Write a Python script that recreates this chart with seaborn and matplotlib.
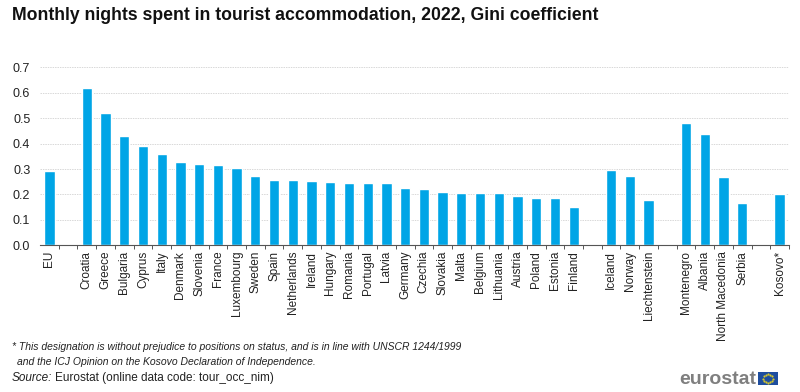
import numpy as np
import pandas as pd
import matplotlib
matplotlib.use('Agg')
import matplotlib.pyplot as plt
from matplotlib.patches import Rectangle
import seaborn as sns

# blanks are the gaps between country groups, names must stay unique
countries = ['EU', ' ', 'Croatia', 'Greece', 'Bulgaria', 'Cyprus', 'Italy', 'Denmark', 'Slovenia',
             'France', 'Luxembourg', 'Sweden', 'Spain', 'Netherlands', 'Ireland', 'Hungary',
             'Romania', 'Portugal', 'Latvia', 'Germany', 'Czechia', 'Slovakia', 'Malta', 'Belgium',
             'Lithuania', 'Austria', 'Poland', 'Estonia', 'Finland', '  ', 'Iceland', 'Norway',
             'Liechtenstein', '   ', 'Montenegro', 'Albania', 'North Macedonia', 'Serbia', '    ',
             'Kosovo*']
gini = [0.293, np.nan, 0.620, 0.520, 0.431, 0.389, 0.359, 0.326, 0.319,
        0.316, 0.305, 0.272, 0.258, 0.256, 0.254, 0.249,
        0.246, 0.244, 0.244, 0.225, 0.222, 0.209, 0.207, 0.204,
        0.204, 0.192, 0.187, 0.186, 0.150, np.nan, 0.297, 0.272,
        0.177, np.nan, 0.482, 0.437, 0.267, 0.165, np.nan,
        0.200]
y_ticks = [0.0, 0.1, 0.2, 0.3, 0.4, 0.5, 0.6, 0.7]

sns.set_theme(style='white')
plt.rcParams['font.family'] = ['Liberation Sans', 'DejaVu Sans']

df = pd.DataFrame({'country': countries, 'gini': gini})

fig = plt.figure(figsize=(8, 3.92), dpi=100)
ax = fig.add_axes([40 / 800, 1 - 245.3 / 392, 749 / 800, 178 / 392])
sns.barplot(data=df, x='country', y='gini', order=countries, color='#00A5E6',
            saturation=1, width=0.55, ax=ax)

ax.set_xlim(-0.5, len(countries) - 0.5)
ax.set_ylim(0, 0.7)
ax.set_xlabel('')
ax.set_ylabel('')
ax.set_yticks(y_ticks)
ax.set_yticklabels([f'{v:.1f}' for v in y_ticks], fontsize=9, color='#222222')
ax.yaxis.grid(True, color='#D8D8D8', lw=0.7, ls=(0, (1.5, 1)))
ax.set_axisbelow(True)

# ticks sit between the categories, labels under the bars
ax.set_xticks(np.arange(len(countries)) + 0.5, minor=True)
ax.set_xticks(np.arange(len(countries)))
ax.set_xticklabels(countries, rotation=90, fontsize=8.5, color='#222222')
ax.tick_params(axis='x', which='major', length=0, pad=4)
ax.tick_params(axis='x', which='minor', bottom=True, length=3, width=0.7, color='#555555')
ax.tick_params(axis='y', length=0, pad=7)

sns.despine(ax=ax, left=True)
ax.spines['bottom'].set_color('#555555')
ax.spines['bottom'].set_linewidth(0.8)

fig.text(12 / 800, 1 - 16 / 392, 'Monthly nights spent in tourist accommodation, 2022, Gini coefficient',
         fontsize=12.7, fontweight='bold', va='center', color='#111111')
fig.text(12 / 800, 1 - 346.5 / 392,
         '* This designation is without prejudice to positions on status, and is in line with UNSCR 1244/1999',
         fontsize=7.5, style='italic', va='center', color='#222222')
fig.text(17 / 800, 1 - 362 / 392, 'and the ICJ Opinion on the Kosovo Declaration of Independence.',
         fontsize=7.5, style='italic', va='center', color='#222222')
fig.text(12 / 800, 1 - 378 / 392, 'Source:', fontsize=8.5, style='italic', va='center', color='#222222')
fig.text(55 / 800, 1 - 378 / 392, 'Eurostat (online data code: tour_occ_nim)',
         fontsize=8.5, va='center', color='#222222')

# eurostat logo
fig.text(679 / 800, 1 - 379 / 392, 'eurostat', fontsize=14, fontweight='bold', va='center', color='#7F7F7F')
star_ax = fig.add_axes([758 / 800, 1 - 385 / 392, 20 / 800, 13 / 392])
star_ax.axis('off')
star_ax.set_xlim(-10, 10)
star_ax.set_ylim(-6.5, 6.5)
star_ax.add_patch(Rectangle((-10, -6.5), 20, 13, color='#1F4E9E', lw=0))
angles = np.deg2rad(np.arange(0, 360, 30))
star_ax.scatter(4.6 * np.cos(angles), 4.6 * np.sin(angles), s=2.5, color='#D8C92A', linewidths=0, zorder=3)

fig.savefig('out.png', dpi=100)
